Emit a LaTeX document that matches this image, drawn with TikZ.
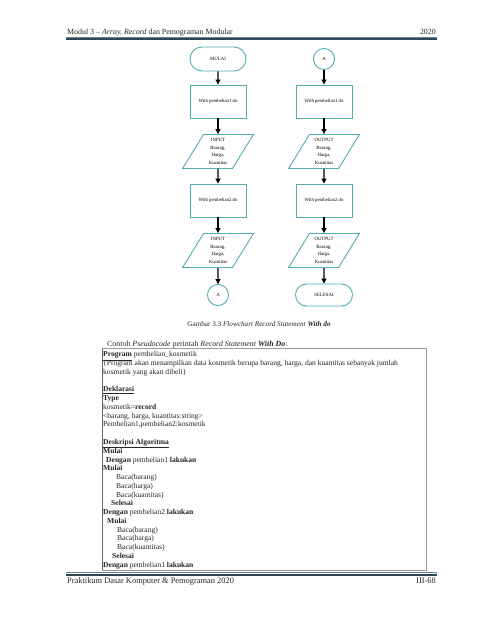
\documentclass[tikz,border=0pt]{standalone}
\usepackage{fontspec}
\setmainfont{Liberation Serif}
\usetikzlibrary{shapes.geometric,shapes.misc,arrows.meta}
\definecolor{tealfc}{HTML}{4FAEB0}
\definecolor{rulec}{HTML}{2E4756}
\definecolor{boxgray}{HTML}{9A9A9A}
\begin{document}
\begin{tikzpicture}[x=1pt,y=-1pt,
  fc/.style={draw=tealfc,line width=0.9pt,align=center,font=\fontsize{4.8}{7.7}\selectfont,inner sep=0pt},
  term/.style={fc,rounded rectangle,minimum width=56pt,minimum height=24pt},
  conn/.style={fc,circle,minimum size=21pt},
  proc/.style={fc,rectangle,minimum width=56pt,minimum height=33pt},
  io/.style={fc,trapezium,trapezium left angle=63,trapezium right angle=117,trapezium stretches=true,minimum width=71pt,minimum height=34pt},
  arr/.style={line width=1.1pt,-{Triangle[length=5pt,width=5pt]}},
  code/.style={anchor=base west,inner sep=0pt,font=\fontsize{7.55}{9}\selectfont,text=black!85},
  hf/.style={inner sep=0pt,font=\fontsize{7.9}{9}\selectfont,text=black!85},
  ff/.style={inner sep=0pt,font=\fontsize{8.4}{9}\selectfont,text=black!85},
  ]
\useasboundingbox[fill=white] (0,0) rectangle (480,621);

% header
\node[hf,anchor=base west] (hdr) at (67,34.3) {Modul 3 -- \textit{Array, Record} dan Pemograman Modular};
\node[hf,anchor=base east] (yr) at (436,34.3) {2020};
\draw[rulec!70,line width=0.5pt] (66,37.3) -- (437,37.3);
\draw[rulec,line width=1.8pt] (66,39.3) -- (437,39.3);

% flowchart left
\node[term] (mulai) at (218,59) {MULAI};
\node[proc] (w1a) at (218,101.5) {With pembelian1 do};
\node[io] (in1) at (218,151.5) {INPUT\\Barang,\\Harga,\\Kuantitas};
\node[proc] (w2a) at (218,200.5) {With pembelian2 do};
\node[io] (in2) at (218,250.5) {INPUT\\Barang,\\Harga,\\Kuantitas};
\node[conn] (aout) at (218,295) {A};
% flowchart right
\node[conn] (ain) at (324,59) {A};
\node[proc] (w1b) at (324,101.5) {With pembelian1 do};
\node[io] (out1) at (324,151.5) {OUTPUT\\Barang,\\Harga,\\Kuantitas};
\node[proc] (w2b) at (324,200.5) {With pembelian2 do};
\node[io] (out2) at (324,250.5) {OUTPUT\\Barang,\\Harga,\\Kuantitas};
\node[term,minimum width=57pt,minimum height=22pt] (selesai) at (324,295) {SELESAI};

\draw[arr] (mulai) -- (w1a);
\draw[arr] (w1a) -- (in1);
\draw[arr] (in1) -- (w2a);
\draw[arr] (w2a) -- (in2);
\draw[arr] (in2) -- (aout);
\draw[arr] (ain) -- (w1b);
\draw[arr] (w1b) -- (out1);
\draw[arr] (out1) -- (w2b);
\draw[arr] (w2b) -- (out2);
\draw[arr] (out2) -- (selesai);

% caption
\node[inner sep=0pt,anchor=base,font=\fontsize{7.2}{8}\selectfont,text=black!85] (cap) at (259,326) {Gambar 3.3 \textit{Flowchart Record Statement} \textbf{\textit{With do}}};

\node[inner sep=0pt,anchor=base west,font=\fontsize{7.9}{9}\selectfont,text=black!85] (contoh) at (107,346) {Contoh \textit{Pseudocode} perintah \textit{Record Statement} \textbf{\textit{With Do}}:};

% code box
\draw[boxgray,line width=0.8pt] (102,348.3) rectangle (426,570);
\draw[black!60,line width=0.8pt] (102,348.3) -- (102,570);

\node[code] (c0) at (103,356.7) {\textbf{\underline{Program}} pembelian\_kosmetik};
\node[code] (c1) at (103,365.5) {\{Program akan menampilkan data kosmetik berupa barang, harga, dan kuantitas sebanyak jumlah};
\node[code] (c2) at (103,374.2) {kosmetik yang akan dibeli\}};
\node[code] (c4) at (103,391.8) {\textbf{\underline{Deklarasi}}};
\node[code] (c5) at (103,400.6) {\textbf{Type}};
\node[code] (c6) at (103,409.3) {kosmetik=\textbf{record}};
\node[code] (c7) at (103,418.1) {<barang, harga, kuantitas:string>};
\node[code] (c8) at (103,426.9) {Pembelian1,pembelian2:kosmetik};
\node[code] (c10) at (103,444.4) {\textbf{\underline{Deskripsi Algoritma}}};
\node[code] (c11) at (103,453.2) {\textbf{Mulai}};
\node[code] (c12) at (106,462.0) {\textbf{Dengan} pembelian1 \textbf{lakukan}};
\node[code] (c13) at (103,470.7) {\textbf{Mulai}};
\node[code] (c14) at (116,479.5) {Baca(barang)};
\node[code] (c15) at (116,488.3) {Baca(harga)};
\node[code] (c16) at (116,497.0) {Baca(kuantitas)};
\node[code] (c17) at (111,505.8) {\textbf{Selesai}};
\node[code] (c18) at (103,514.6) {\textbf{Dengan} pembelian2 \textbf{lakukan}};
\node[code] (c19) at (107,523.4) {\textbf{Mulai}};
\node[code] (c20) at (117,532.1) {Baca(barang)};
\node[code] (c21) at (117,540.9) {Baca(harga)};
\node[code] (c22) at (117,549.7) {Baca(kuantitas)};
\node[code] (c23) at (112,558.4) {\textbf{Selesai}};
\node[code] (c24) at (103,567.2) {\textbf{Dengan} pembelian1 \textbf{lakukan}};

% footer
\draw[rulec!70,line width=0.5pt] (66,572.6) -- (437,572.6);
\draw[rulec,line width=1.8pt] (66,574.6) -- (437,574.6);
\node[ff,anchor=base west] (ftr) at (67,583.3) {Praktikum Dasar Komputer \& Pemograman 2020};
\node[ff,anchor=base east] (pg) at (436,583.3) {III-68};
\end{tikzpicture}
\end{document}
